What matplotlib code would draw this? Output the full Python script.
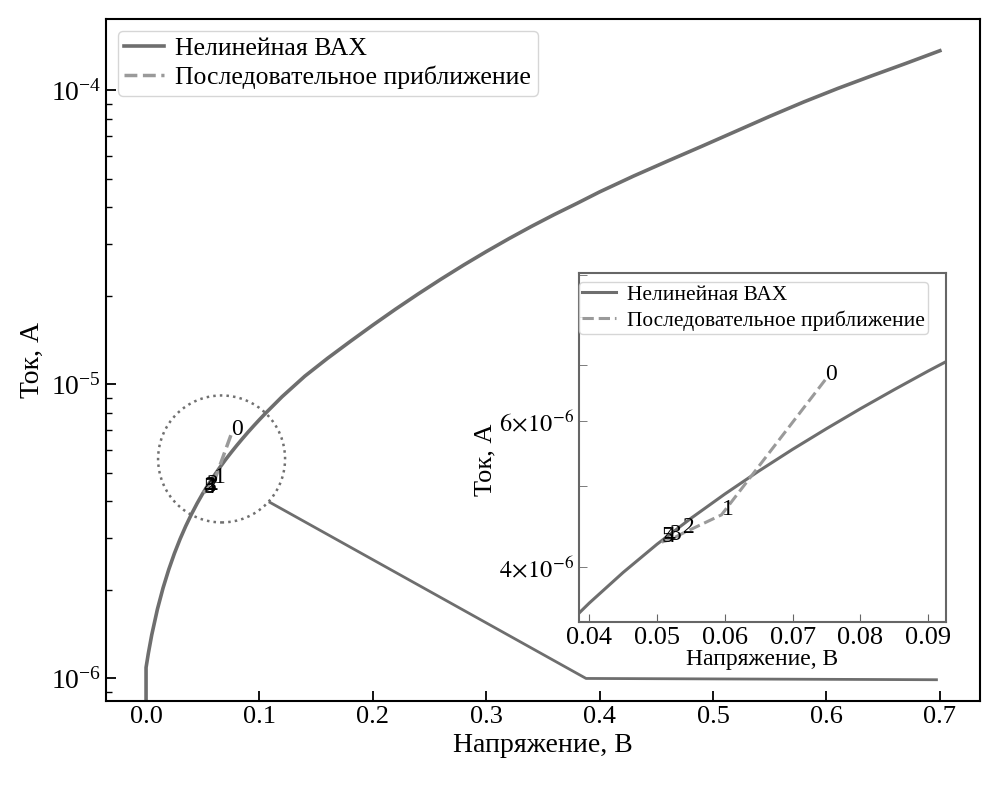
import matplotlib as mpl
mpl.use('Agg')
import matplotlib.pyplot as plt
from matplotlib.patches import Circle
from matplotlib.transforms import ScaledTranslation
from matplotlib.ticker import MultipleLocator, FixedLocator, FuncFormatter, NullLocator

plt.rcParams['font.family'] = ['Liberation Serif', 'DejaVu Serif']
plt.rcParams['mathtext.fontset'] = 'stix'

# нелинейная ВАХ
U_vax = [0.0, 0.0, 0.002, 0.005, 0.010, 0.015, 0.020, 0.025, 0.030, 0.035, 0.040,
         0.045, 0.050, 0.055, 0.060, 0.065, 0.070, 0.075, 0.080, 0.085, 0.090,
         0.095, 0.100, 0.105, 0.12, 0.14, 0.16, 0.18, 0.20, 0.22, 0.24, 0.26,
         0.28, 0.30, 0.32, 0.34, 0.36, 0.38, 0.40, 0.43, 0.46, 0.49, 0.52, 0.55,
         0.58, 0.61, 0.64, 0.67, 0.70]
I_vax = [8.0e-7, 1.089e-6, 1.216e-6, 1.406e-6, 1.719e-6, 2.032e-6, 2.346e-6,
         2.662e-6, 2.980e-6, 3.298e-6, 3.617e-6, 3.938e-6, 4.259e-6, 4.576e-6,
         4.895e-6, 5.217e-6, 5.542e-6, 5.869e-6, 6.203e-6, 6.541e-6, 6.887e-6,
         7.236e-6, 7.592e-6, 7.955e-6, 9.09e-6, 1.067e-5, 1.227e-5, 1.400e-5,
         1.592e-5, 1.803e-5, 2.032e-5, 2.280e-5, 2.547e-5, 2.831e-5, 3.133e-5,
         3.451e-5, 3.784e-5, 4.130e-5, 4.519e-5, 5.117e-5, 5.754e-5, 6.457e-5,
         7.261e-5, 8.166e-5, 9.141e-5, 1.016e-4, 1.122e-4, 1.236e-4, 1.365e-4]

# последовательное приближение, итерации 0..5
U_it = [0.0748, 0.0595, 0.0538, 0.0519, 0.0509, 0.0507]
I_it = [6.72e-6, 4.62e-6, 4.39e-6, 4.31e-6, 4.29e-6, 4.28e-6]
it_labels = ['0', '1', '2', '3', '4', '5']

# линия-выноска от круга
U_lead = [0.1093, 0.388, 0.697]
I_lead = [3.97e-6, 1.0e-6, 0.99e-6]

circ_center = (0.0666, 5.58e-6)

# подписанные деления на вставке
inset_yticks = [4e-6, 5e-6, 6e-6, 7e-6, 8e-6, 9e-6]
inset_ylabels = {4e-6: r'$4\!\times\!10^{-6}$', 6e-6: r'$6\!\times\!10^{-6}$'}

c_line = '#6e6e6e'
c_dash = '#9a9a9a'

fig = plt.figure(figsize=(10.04, 7.89), dpi=100)
ax = fig.add_axes([0.1056, 0.1119, 0.8705, 0.864])

ax.plot(U_vax, I_vax, color=c_line, lw=2.6, label='Нелинейная ВАХ')
ax.plot(U_it, I_it, color=c_dash, lw=2.5, ls='--', label='Последовательное приближение')
for u, i, t in zip(U_it, I_it, it_labels):
    ax.text(u, i, t, fontsize=17)
ax.plot(U_lead, I_lead, color=c_line, lw=2)

circ = Circle((0, 0), radius=0.635, fill=False, ls=':', lw=1.8, ec='#707070',
              transform=fig.dpi_scale_trans + ScaledTranslation(circ_center[0], circ_center[1], ax.transData))
ax.add_patch(circ)

ax.set_yscale('log')
ax.set_xlim(-0.0353, 0.7354)
ax.set_ylim(8.4e-7, 1.75e-4)
ax.tick_params(which='both', direction='in', labelsize=19)
ax.tick_params(axis='y', labelsize=20)
ax.tick_params(which='major', length=7, width=1.3)
ax.tick_params(which='minor', length=4, width=1)
for s in ax.spines.values():
    s.set_linewidth(1.5)
ax.set_xlabel('Напряжение, В', fontsize=20)
ax.set_ylabel('Ток, А', fontsize=20)
ax.legend(loc='upper left', fontsize=18.5, handlelength=1.55, handletextpad=0.45,
          labelspacing=0.22, borderpad=0.25, borderaxespad=0.45)

# вставка
axi = fig.add_axes([0.5767, 0.2120, 0.3652, 0.4420])
axi.plot(U_vax, I_vax, color=c_line, lw=2.2, label='Нелинейная ВАХ')
axi.plot(U_it, I_it, color=c_dash, lw=2.2, ls='--', label='Последовательное приближение')
for u, i, t in zip(U_it, I_it, it_labels):
    axi.text(u, i, t, fontsize=17, clip_on=True)
axi.set_yscale('log')
axi.set_xlim(0.03848, 0.09257)
axi.set_ylim(3.434e-6, 9.04e-6)
axi.xaxis.set_major_locator(MultipleLocator(0.01))
axi.yaxis.set_major_locator(NullLocator())
axi.yaxis.set_minor_locator(FixedLocator(inset_yticks))
axi.yaxis.set_minor_formatter(FuncFormatter(lambda v, p: inset_ylabels.get(round(v, 12), '')))
axi.tick_params(which='both', direction='in', labelsize=19, color='#666666', length=6)
axi.tick_params(axis='y', which='both', labelsize=17.5)
for s in axi.spines.values():
    s.set_color('#666666')
    s.set_linewidth(1.5)
axi.set_xlabel('Напряжение, В', fontsize=17, labelpad=0)
axi.set_ylabel('Ток, А', fontsize=19)
axi.yaxis.set_label_coords(-0.225, 0.465)
axi.legend(loc='upper left', bbox_to_anchor=(0.0, 0.975), borderaxespad=0,
           fontsize=15.4, handlelength=1.6, handletextpad=0.5,
           labelspacing=0.25, borderpad=0.15)

fig.savefig('out.png', dpi=100)
